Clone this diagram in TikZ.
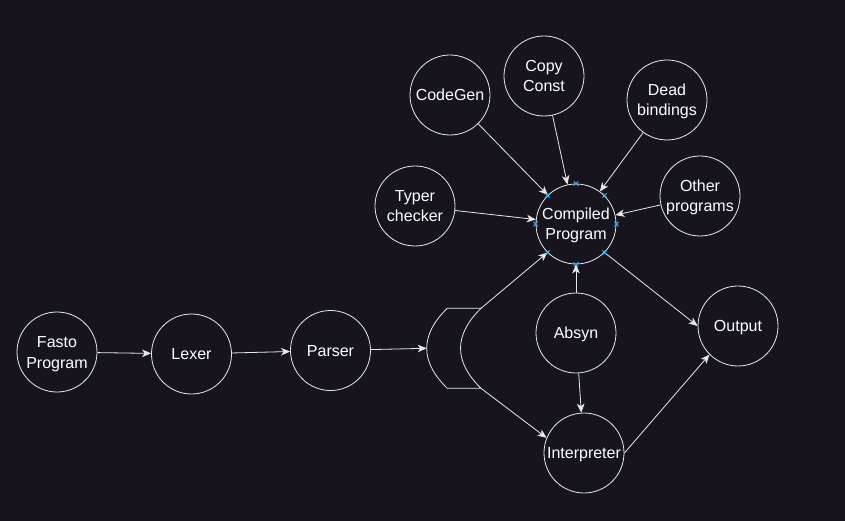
\documentclass[tikz,border=0pt]{standalone}
\usepackage{fontspec}
\setmainfont{Liberation Sans}
\usetikzlibrary{arrows.meta,shapes.misc}
\definecolor{canvas}{RGB}{24,20,29}
\definecolor{linegray}{RGB}{232,232,232}
\definecolor{portblue}{RGB}{41,182,242}

\begin{document}
\begin{tikzpicture}[x=1pt, y=-1pt, draw=linegray, line width=0.8pt, every node/.style={text=white, font=\fontsize{16}{20.5}\selectfont}]
    \tikzstyle{stage}=[circle, minimum size=80pt, inner sep=0pt, draw=linegray, align=center, text height=11.5pt, text depth=0pt]  % white ring
    \tikzstyle{twoline}=[stage, text height=32pt]
    \tikzstyle{link}=[-{Stealth[length=9pt, width=7.5pt, inset=2.5pt]}, draw=linegray]
    \tikzstyle{port}=[cross out, draw=portblue, minimum size=3.5pt, inner sep=0pt, line width=0.9pt, text height=0pt]

    % Background
    \fill[canvas] (0,0) rectangle (845,521);
    \useasboundingbox (0,0) rectangle (845,521);

    % Front end
    \node[twoline] (fasto) at (57,352) {Fasto\\Program};
    \node[stage] (lexer) at (191.5,354) {Lexer};
    \node[stage] (parser) at (330.5,350.5) {Parser};

    % Middle and back end
    \node[twoline] (cp) at (576,224) {Compiled\\Program};
    \node[stage] (absyn) at (576,333) {Absyn};
    \node[stage] (interp) at (584,453) {Interpreter};
    \node[stage] (output) at (738,326) {Output};

    % Passes round the compiled program
    \node[twoline] (typer) at (415,206) {Typer\\checker};
    \node[stage] (codegen) at (450,95) {CodeGen};
    \node[twoline] (copy) at (544,76) {Copy\\Const};
    \node[twoline] (dead) at (667,100) {Dead\\bindings};
    \node[twoline] (other) at (700,196) {Other\\programs};

    % Split shape
    \coordinate (st-in) at (426.7,348.3);
    \coordinate (st-top) at (481,308.3);
    \coordinate (st-bot) at (481,388.3);
    \draw (447.2,308.3) -- (st-top) .. controls (453.7,335) and (453.7,361.6) .. (st-bot)
        -- (447.2,388.3) .. controls (419.9,361.6) and (419.9,335) .. cycle;

    % Connect the front end
    \draw[link] (fasto) -- (lexer);
    \draw[link] (lexer) -- (parser);
    \draw[link] (parser) -- (st-in);
    \draw[link] (st-top) -- (cp.225);
    \draw[link] (st-bot) -- (interp.158);

    % Connect the passes
    \foreach \src in {typer,codegen,copy,dead,other}
        \draw[link] (\src) -- (cp);

    \draw[link] (absyn) -- (cp);
    \draw[link] (absyn) -- (interp);
    \draw[link] (cp.-45) -- (output.west);
    \draw[link] (interp.east) -- (output.225);

    % Connection points
    \foreach \a in {0,45,...,315}
        \node[port] (cp-\a) at (cp.\a) {};
\end{tikzpicture}
\end{document}
